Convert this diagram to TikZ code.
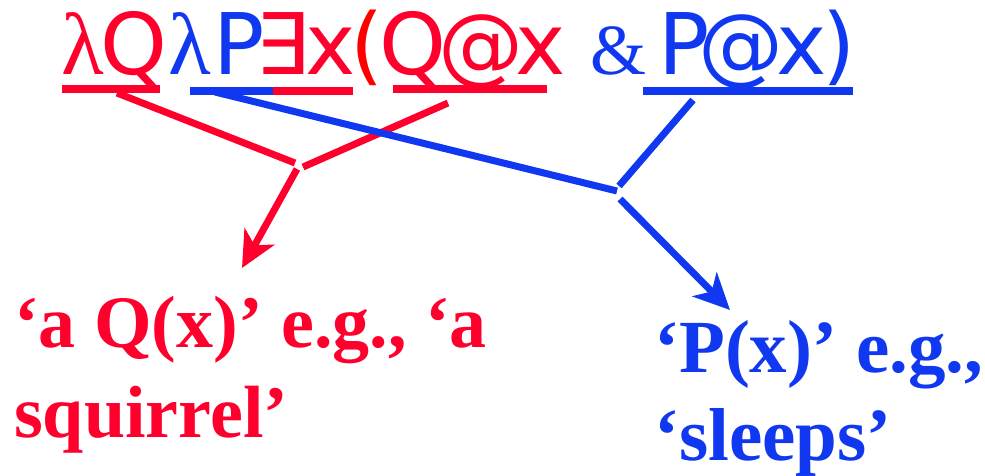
\documentclass[tikz,border=0pt]{standalone}
\usepackage{fontspec}
\newfontfamily\topfont{DejaVu Sans}
\newfontfamily\serfont{Liberation Serif}
\usetikzlibrary{arrows.meta}
\definecolor{myred}{RGB}{255,0,45}
\definecolor{myblue}{RGB}{16,56,240}
\definecolor{pured}{RGB}{255,0,0}
\begin{document}
\begin{tikzpicture}[x=1pt,y=-1pt,
  sym/.style={anchor=base,inner sep=0pt,font=\topfont\fontsize{85}{85}\selectfont},
  lam/.style={anchor=base,inner sep=0pt,font=\serfont\fontsize{88}{88}\selectfont},
  amp/.style={anchor=base,inner sep=0pt,font=\serfont\fontsize{72}{72}\selectfont},
  lbl/.style={anchor=base west,inner sep=0pt,font=\serfont\bfseries\fontsize{74}{74}\selectfont},
  lblb/.style={lbl,font=\serfont\bfseries\fontsize{75}{75}\selectfont},
  ul/.style={line width=7.5pt},
  conn/.style={line width=7pt},
  arr/.style={conn,-{Stealth[length=36pt,width=34pt,inset=10pt]}}]
\useasboundingbox (0,0) rectangle (985,476);

% top formula glyphs
\node[lam,text=myred]  (l1) at (83,75)  {λ};
\node[sym,text=myred]  (q1) at (134,75) {Q};
\node[lam,text=myblue] (l2) at (190,75) {λ};
\node[sym,text=myblue] (p1) at (239,75) {P};
\node[sym,text=myred]  (ex) at (282,75) {∃};
\node[sym,text=myred]  (x1) at (331,75) {x};
\node[sym,text=pured]  (op) at (367,75) {(};
\node[sym,text=myred]  (q2) at (413,75) {Q};
\node[sym,text=myred]  (a1) at (481,75) {@};
\node[sym,text=myred]  (x2) at (541,75) {x};
\node[amp,text=myblue] (am) at (618,75) {\&};
\node[sym,text=myblue] (p2) at (684,75) {P};
\node[sym,text=myblue] (a2) at (741,75) {@};
\node[sym,text=myblue] (x3) at (802,75) {x};
\node[sym,text=myblue] (cp) at (839,75) {)};

% underline end points
\coordinate (u1a) at (62,89);  \coordinate (u1b) at (160,89);
\coordinate (u2a) at (190,91); \coordinate (u2b) at (273,91);
\coordinate (u3b) at (353,91);
\coordinate (u4a) at (393,89); \coordinate (u4b) at (547,89);
\coordinate (u5a) at (643,91); \coordinate (u5b) at (853,91);

\draw[ul,myred]  (u1a) -- (u1b);
\draw[ul,myblue] (u2a) -- (u2b);
\draw[ul,myred]  (u2b) -- (u3b);
\draw[ul,myred]  (u4a) -- (u4b);
\draw[ul,myblue] (u5a) -- (u5b);

% connector points
\coordinate (ra) at (117,93);
\coordinate (rj1) at (295,163);
\coordinate (rj2) at (303,167);
\coordinate (rb) at (448,103);
\coordinate (rs) at (297,169);
\coordinate (rt) at (242,268);

\coordinate (ba) at (215,92);
\coordinate (bj1) at (617,191);
\coordinate (bd) at (693,100);
\coordinate (bj2) at (619,186);
\coordinate (bs) at (620,199);
\coordinate (bt) at (730,310);

\draw[conn,myred] (ra) -- (rj1);
\draw[conn,myred] (rb) -- (rj2);
\draw[arr,myred]  (rs) -- (rt);

\draw[conn,myblue] (ba) -- (bj1);
\draw[conn,myblue] (bd) -- (bj2);
\draw[arr,myblue]  (bs) -- (bt);

% labels
\node[lbl,text=myred] (r1) at (14,347) {‘a Q(x)’ e.g., ‘a};
\node[lbl,text=myred] (r2) at (14,437) {squirrel’};
\node[lblb,text=myblue] (b1) at (654,372) {‘P(x)’ e.g.,};
\node[lblb,text=myblue] (b2) at (654,460) {‘sleeps’};
\end{tikzpicture}
\end{document}
